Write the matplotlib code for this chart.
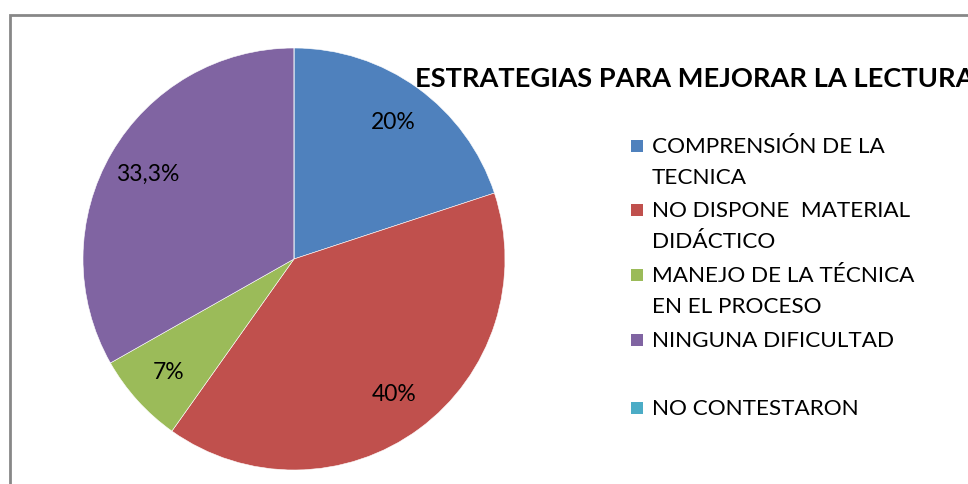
import matplotlib
matplotlib.use('Agg')
from matplotlib import pyplot as plt
from matplotlib.patches import Rectangle

plt.rcParams['font.family'] = ['Lato', 'DejaVu Sans']

# data
categorias = ['COMPRENSIÓN DE LA\nTECNICA',
              'NO DISPONE  MATERIAL\nDIDÁCTICO',
              'MANEJO DE LA TÉCNICA\nEN EL PROCESO',
              'NINGUNA DIFICULTAD',
              'NO CONTESTARON']
valores = [20, 40, 7, 33.3, 0]
etiquetas = ['20%', '40%', '7%', '33,3%', '']
colores = ['#4F81BD', '#C0504D', '#9BBB59', '#8064A2', '#4BACC6']
titulo = 'ESTRATEGIAS PARA MEJORAR LA LECTURA'

W, H = 968, 484
fig = plt.figure(figsize=(W/100, H/100), dpi=100)

# chart frame (gray border, cut by image edges)
fig.patches.append(Rectangle((10/W, -0.1), 1.2, 1 - 15/H + 0.1, transform=fig.transFigure,
                             fill=False, edgecolor='#878787', linewidth=2))

cx, cy, r = 294, 259, 211
ax = fig.add_axes([(cx - r)/W, (H - cy - r)/H, 2*r/W, 2*r/H])
wedges, textos = ax.pie(valores, colors=colores, startangle=90, counterclock=False,
                        labels=etiquetas, labeldistance=0.8, radius=1,
                        wedgeprops=dict(edgecolor='white', linewidth=0.4),
                        textprops=dict(fontsize=16.5, color='black'))
for t in textos:
    t.set_ha('center')
    t.set_va('center')
ax.set_xlim(-1, 1)
ax.set_ylim(-1, 1)
ax.set_aspect('equal')
ax.axis('off')

fig.text(415/W, 1 - 79/H, titulo, fontsize=19.6, fontweight='bold', va='center', ha='left')

# legend
ys = [146, 210, 275, 340, 408]
for y, lab, col in zip(ys, categorias, colores):
    fig.patches.append(Rectangle((631/W, 1 - (y + 6)/H), 12/W, 12/H,
                                 transform=fig.transFigure, facecolor=col, edgecolor='none'))
    fig.text(652/W, 1 - (y - 9)/H, lab, fontsize=16.2, va='top', ha='left', linespacing=1.7)

plt.savefig('out.png', dpi=100)
